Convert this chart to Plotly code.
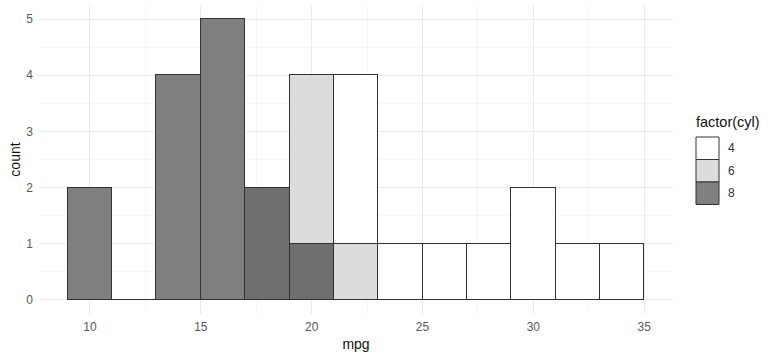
import plotly.graph_objects as go

# ---- data ----
bin_centers = [10, 12, 14, 16, 18, 20, 22, 24, 26, 28, 30, 32, 34]
cyl_levels = ["4", "6", "8"]
count_cyl4 = [0, 0, 0, 0, 0, 0, 3, 1, 1, 1, 2, 1, 1]
count_cyl6 = [0, 0, 0, 0, 0, 3, 1, 0, 0, 0, 0, 0, 0]
count_cyl8 = [2, 0, 4, 5, 2, 1, 0, 0, 0, 0, 0, 0, 0]
x_ticks = [10, 15, 20, 25, 30, 35]
y_ticks = [0, 1, 2, 3, 4, 5]

# ---- styles ----
BIN_WIDTH = 2
fill = {"4": "#ffffff", "6": "#dcdcdc", "8": "#7f7f7f"}
shade8 = ["#7f7f7f", "#7f7f7f", "#7f7f7f", "#7f7f7f", "#6f6f6f", "#6f6f6f",
          "#7f7f7f", "#7f7f7f", "#7f7f7f", "#7f7f7f", "#7f7f7f", "#7f7f7f", "#7f7f7f"]
outline = "#333333"

W, H = 768, 355
ML, MR, MT, MB = 39, 95, 5, 41
PW, PH = W - ML - MR, H - MT - MB

fig = go.Figure()
# stacked bottom -> top : 8, 6, 4
for lvl, vals, col in [("8", count_cyl8, shade8), ("6", count_cyl6, fill["6"]), ("4", count_cyl4, fill["4"])]:
    fig.add_trace(go.Bar(
        x=bin_centers, y=vals, width=[BIN_WIDTH] * len(bin_centers), name=lvl,
        marker=dict(color=col, line=dict(color=outline, width=1)),
        showlegend=False,
    ))

xmin, xmax = bin_centers[0] - BIN_WIDTH / 2, bin_centers[-1] + BIN_WIDTH / 2
xpad = (xmax - xmin) * 0.05
totals = [a + b + c for a, b, c in zip(count_cyl4, count_cyl6, count_cyl8)]
ymax = max(totals)
ypad = ymax * 0.05

tickfont = dict(family="Liberation Sans, Arial, sans-serif", size=12, color="#595959")
fig.update_layout(
    width=W, height=H, barmode="stack", bargap=0,
    margin=dict(l=ML, r=MR, t=MT, b=MB),
    plot_bgcolor="white", paper_bgcolor="white",
    font=dict(family="Liberation Sans, Arial, sans-serif"),
    xaxis=dict(range=[xmin - xpad, xmax + xpad], tickvals=x_ticks, tickfont=tickfont,
               showgrid=True, gridcolor="#ebebeb", gridwidth=1, zeroline=False,
               showline=False, ticks="", ticklabelstandoff=4,
               minor=dict(dtick=2.5, tick0=0, showgrid=True, gridcolor="#f5f5f5", gridwidth=1),
               title=dict(text="mpg", font=dict(size=14, color="#111111"), standoff=6)),
    yaxis=dict(range=[-ypad, ymax + ypad], tickvals=y_ticks, tickfont=tickfont,
               showgrid=True, gridcolor="#ebebeb", gridwidth=1, zeroline=False,
               showline=False, ticks="", ticklabelstandoff=5,
               minor=dict(dtick=0.5, tick0=0, showgrid=True, gridcolor="#f5f5f5", gridwidth=1),
               title=dict(text="count", font=dict(size=14, color="#111111"), standoff=2)),
)

# ---- manual legend (ggplot-like keys) ----
def px_x(p):
    return (p - ML) / PW

def px_y(p):
    return (H - MB - p) / PH

key_left, key_w, key_h, key_top = 696, 23, 22.5, 137
fig.add_annotation(x=px_x(694), y=px_y(122), xref="paper", yref="paper", text="factor(cyl)",
                   showarrow=False, xanchor="left", yanchor="middle",
                   font=dict(size=14.5, color="#111111"))
for i, lvl in enumerate(cyl_levels):
    top = key_top + i * key_h
    fig.add_shape(type="rect", xref="paper", yref="paper",
                  x0=px_x(key_left), x1=px_x(key_left + key_w),
                  y0=px_y(top + key_h), y1=px_y(top),
                  fillcolor=fill[lvl], line=dict(color=outline, width=1))
    fig.add_annotation(x=px_x(key_left + key_w + 7), y=px_y(top + key_h / 2), xref="paper", yref="paper",
                       text=lvl, showarrow=False, xanchor="left", yanchor="middle",
                       font=dict(size=12, color="#333333"))

fig.write_html("out.html")
